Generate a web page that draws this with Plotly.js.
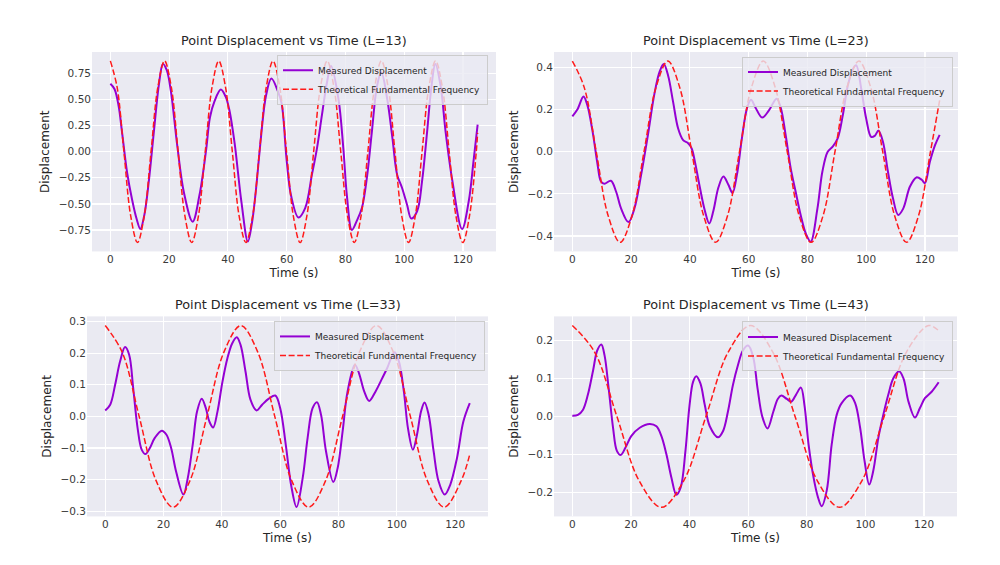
<!DOCTYPE html>
<html>
<head>
<meta charset="utf-8">
<script src="https://cdn.plot.ly/plotly-3.0.1.min.js"></script>
<style>
  html, body { margin: 0; padding: 0; background: #ffffff; }
  #chart { width: 1000px; height: 565px; }
</style>
</head>
<body>
<div id="chart"></div>
<script>
// Tick labels
const timeTicks = [0, 20, 40, 60, 80, 100, 120];
const ticks13 = [-0.75, -0.5, -0.25, 0, 0.25, 0.5, 0.75];
const ticks23 = [-0.4, -0.2, 0, 0.2, 0.4];
const ticks33 = [-0.3, -0.2, -0.1, 0, 0.1, 0.2, 0.3];
const ticks43 = [-0.2, -0.1, 0, 0.1, 0.2];

// L=13, measured displacement
const measured13T = [0, 1.4, 2.8, 4.0, 5.7, 7.4, 8.9, 10.2, 11.6, 13.1, 14.8, 16.6, 17.9, 19.2, 20.6, 22.8, 25.1, 28.0, 30.3, 32.6,
    33.9, 35.4, 37.6, 39.2, 40.5, 42.3, 44.6, 46.8, 48.2, 49.6, 51.3, 53.0, 54.8, 57.0, 58.3, 60.0, 61.5, 64.0, 66.3, 68.6,
    70.3, 72.0, 73.7, 75.1, 77.6, 79.3, 80.5, 82.2, 83.9, 85.6, 87.3, 89.0, 90.7, 92.2, 94.2, 96.0, 97.6, 99.2, 101.0, 102.4,
    104.4, 106.1, 107.8, 109.3, 110.6, 112.4, 114.1, 116.4, 119.7, 122.0, 123.6, 125];
const measured13Y = [0.65, 0.60, 0.44, 0.18, -0.20, -0.46, -0.64, -0.74, -0.60, -0.28, 0.19, 0.66, 0.84, 0.78, 0.58, 0.05, -0.40, -0.67, -0.42, 0.02,
    0.33, 0.48, 0.595, 0.53, 0.40, 0.08, -0.48, -0.86, -0.68, -0.35, 0.15, 0.54, 0.70, 0.58, 0.46, -0.08, -0.42, -0.63, -0.54, -0.22,
    0.03, 0.35, 0.66, 0.82, 0.51, 0.03, -0.42, -0.75, -0.66, -0.54, -0.25, 0.19, 0.62, 0.76, 0.51, 0.13, -0.22, -0.34, -0.51, -0.64,
    -0.57, -0.28, 0.19, 0.63, 0.84, 0.63, 0.19, -0.28, -0.74, -0.47, -0.09, 0.26];

// L=13, theoretical fundamental frequency
const theory13T = [0, 2.31, 4.61, 6.92, 9.23, 11.53, 13.84, 16.14, 18.45, 20.76, 23.06, 25.37, 27.68, 29.98, 32.29, 34.59,
    36.9, 39.21, 41.51, 43.82, 46.13, 48.43, 50.74, 53.04, 55.35, 57.66, 59.96, 62.27, 64.58, 66.88, 69.19, 71.49,
    73.8, 76.11, 78.41, 80.72, 83.03, 85.33, 87.64, 89.94, 92.25, 94.56, 96.86, 99.17, 101.48, 103.78, 106.09, 108.39,
    110.7, 113.01, 115.31, 117.62, 119.93, 122.23, 124.54, 125];
const theory13Y = [0.87, 0.615, 0, -0.615, -0.87, -0.615, 0, 0.615, 0.87, 0.615, 0, -0.615, -0.87, -0.615, 0, 0.615,
    0.87, 0.615, 0, -0.615, -0.87, -0.615, 0, 0.615, 0.87, 0.615, 0, -0.615, -0.87, -0.615, 0, 0.615,
    0.87, 0.615, 0, -0.615, -0.87, -0.615, 0, 0.615, 0.87, 0.615, 0, -0.615, -0.87, -0.615, 0, 0.615,
    0.87, 0.615, 0, -0.615, -0.87, -0.615, 0, 0.18];

// L=23
const measured23T = [0, 1.7, 3.8, 5.1, 6.9, 8.6, 9.7, 10.9, 13.1, 14.9, 16.6, 19.1, 21.1, 23.4, 25.7, 28.0, 29.7, 31.1, 32.6, 34.3,
    36.0, 37.7, 39.4, 40.6, 41.7, 43.4, 45.1, 46.6, 48.0, 49.7, 51.4, 53.1, 54.5, 56.0, 57.7, 59.4, 60.8, 62.3, 64.6, 66.9,
    69.5, 70.9, 72.6, 74.3, 76.0, 77.7, 79.5, 81.1, 83.4, 85.1, 86.9, 88.6, 90.3, 92.0, 93.7, 95.4, 96.6, 98.3, 100.0, 101.7,
    102.9, 104.2, 105.7, 107.4, 109.1, 110.9, 112.6, 114.9, 117.1, 118.9, 120.0, 121.7, 123.4, 125];
const measured23Y = [0.168, 0.20, 0.262, 0.22, 0.094, -0.063, -0.14, -0.152, -0.138, -0.19, -0.27, -0.334, -0.27, -0.11, 0.078, 0.28, 0.38, 0.416, 0.36, 0.235,
    0.11, 0.055, 0.04, 0.016, -0.047, -0.17, -0.28, -0.34, -0.28, -0.17, -0.118, -0.157, -0.196, -0.11, 0.063, 0.204, 0.246, 0.21, 0.162, 0.196,
    0.251, 0.21, 0.078, -0.078, -0.19, -0.30, -0.39, -0.427, -0.27, -0.094, 0.0, 0.024, 0.063, 0.17, 0.31, 0.39, 0.41, 0.30, 0.157, 0.07,
    0.075, 0.10, 0.047, -0.094, -0.22, -0.30, -0.27, -0.165, -0.122, -0.133, -0.149, -0.047, 0.03, 0.08];
const theory23T = [0, 4.06, 8.13, 12.19, 16.25, 20.31, 24.38, 28.44, 32.5, 36.56, 40.63, 44.69, 48.75, 52.81, 56.88, 60.94,
    65, 69.06, 73.13, 77.19, 81.25, 85.31, 89.38, 93.44, 97.5, 101.56, 105.63, 109.69, 113.75, 117.81, 121.88, 125];
const theory23Y = [0.43, 0.304, 0, -0.304, -0.43, -0.304, 0, 0.304, 0.43, 0.304, 0, -0.304, -0.43, -0.304, 0, 0.304,
    0.43, 0.304, 0, -0.304, -0.43, -0.304, 0, 0.304, 0.43, 0.304, 0, -0.304, -0.43, -0.304, 0, 0.244];

// L=33
const measured33T = [0, 1.7, 3.4, 5.1, 6.8, 8.2, 9.6, 11.1, 12.5, 13.8, 15.3, 17.0, 19.4, 21.0, 22.6, 24.3, 26.8, 28.3, 30.0, 31.5,
    33.1, 34.5, 35.7, 37.0, 38.5, 40.2, 41.9, 43.6, 45.1, 46.4, 48.1, 49.8, 51.9, 53.8, 56.1, 58.3, 60.0, 61.9, 63.8, 65.6,
    67.7, 69.4, 71.1, 72.6, 74.0, 75.7, 78.2, 79.7, 81.4, 83.1, 85.6, 87.0, 88.8, 90.5, 92.7, 95.0, 96.7, 99.2, 100.7, 102.4,
    103.8, 105.5, 106.9, 108.3, 109.5, 110.9, 112.6, 114.3, 116.4, 118.3, 120.6, 122.8, 125];
const measured33Y = [0.019, 0.037, 0.10, 0.174, 0.219, 0.195, 0.089, -0.037, -0.105, -0.119, -0.10, -0.068, -0.045, -0.058, -0.10, -0.174, -0.247, -0.195, -0.089, 0.016,
    0.056, 0.026, -0.016, -0.035, 0.016, 0.11, 0.184, 0.232, 0.25, 0.226, 0.142, 0.053, 0.019, 0.037, 0.056, 0.066, 0.026, -0.089, -0.22, -0.286,
    -0.195, -0.068, 0.026, 0.045, 0.005, -0.11, -0.207, -0.163, -0.047, 0.079, 0.163, 0.137, 0.079, 0.049, 0.079, 0.121, 0.153, 0.203, 0.174, 0.079,
    -0.037, -0.105, -0.058, 0.016, 0.044, 0.005, -0.11, -0.205, -0.247, -0.216, -0.132, -0.016, 0.042];
const theory33T = [0, 5.81, 11.63, 17.44, 23.25, 29.06, 34.88, 40.69, 46.5, 52.31, 58.13, 63.94, 69.75, 75.56, 81.38, 87.19,
    93, 98.81, 104.63, 110.44, 116.25, 122.06, 125];
const theory33Y = [0.287, 0.203, 0, -0.203, -0.287, -0.203, 0, 0.203, 0.287, 0.203, 0, -0.203, -0.287, -0.203, 0, 0.203,
    0.287, 0.203, 0, -0.203, -0.287, -0.203, -0.12];

// L=43
const measured43T = [0, 1.9, 3.6, 5.3, 7.1, 8.5, 9.9, 11.0, 12.4, 13.9, 15.2, 16.5, 18.1, 20.1, 23.0, 26.4, 28.7, 30.4, 32.1, 33.8,
    35.5, 37.0, 38.6, 40.0, 41.2, 42.3, 43.7, 45.2, 46.9, 49.7, 51.4, 53.1, 54.8, 56.5, 58.2, 60.0, 61.7, 63.2, 64.8, 66.6,
    68.6, 70.1, 71.3, 73.2, 74.7, 76.3, 78.0, 79.2, 80.6, 82.3, 83.8, 85.1, 86.8, 88.5, 90.2, 91.9, 94.8, 96.5, 98.2, 99.7,
    101.3, 102.7, 104.4, 106.1, 107.8, 109.5, 111.5, 113.0, 114.7, 116.9, 118.6, 120.3, 122.6, 125];
const measured43Y = [0.002, 0.004, 0.017, 0.057, 0.122, 0.174, 0.19, 0.161, 0.074, -0.03, -0.091, -0.102, -0.083, -0.052, -0.03, -0.02, -0.026, -0.052, -0.10, -0.161,
    -0.207, -0.187, -0.091, 0.03, 0.091, 0.106, 0.087, 0.03, -0.026, -0.055, -0.039, 0.013, 0.083, 0.135, 0.174, 0.187, 0.157, 0.074, 0.0, -0.032,
    0.013, 0.046, 0.055, 0.046, 0.039, 0.057, 0.076, 0.03, -0.074, -0.161, -0.213, -0.237, -0.196, -0.074, 0.004, 0.035, 0.055, 0.035, -0.03, -0.117,
    -0.18, -0.143, -0.057, 0.004, 0.057, 0.10, 0.119, 0.10, 0.039, -0.003, 0.022, 0.048, 0.065, 0.09];
const theory43T = [0, 7.6, 15.2, 22.8, 30.4, 38.0, 45.6, 53.2, 60.8, 68.4, 76.0, 83.6, 91.2, 98.8, 106.4, 114.0, 121.6, 125];
const theory43Y = [0.24, 0.17, 0, -0.17, -0.24, -0.17, 0, 0.17, 0.24, 0.17, 0, -0.17, -0.24, -0.17, 0, 0.17, 0.24, 0.226];

// Styling (seaborn darkgrid look)
const TEXT = '#262626';
const FONT = 'DejaVu Sans, sans-serif';
const PURPLE = '#9400d3';
const RED = '#ff1a1a';

// One panel per length: domains in paper fractions
const panels = [
    { name: 'L=13', mT: measured13T, mY: measured13Y, tT: theory13T, tY: theory13Y, ticks: ticks13, fmt: '.2f',
      range: [-0.955, 0.955], xd: [0.092, 0.496], yd: [0.555, 0.908], legX: 0.488, legY: 0.903 },
    { name: 'L=23', mT: measured23T, mY: measured23Y, tT: theory23T, tY: theory23Y, ticks: ticks23, fmt: '.1f',
      range: [-0.473, 0.473], xd: [0.554, 0.958], yd: [0.555, 0.908], legX: 0.953, legY: 0.900 },
    { name: 'L=33', mT: measured33T, mY: measured33Y, tT: theory33T, tY: theory33Y, ticks: ticks33, fmt: '.1f',
      range: [-0.316, 0.316], xd: [0.087, 0.488], yd: [0.086, 0.440], legX: 0.485, legY: 0.432 },
    { name: 'L=43', mT: measured43T, mY: measured43Y, tT: theory43T, tY: theory43Y, ticks: ticks43, fmt: '.1f',
      range: [-0.264, 0.264], xd: [0.554, 0.957], yd: [0.086, 0.440], legX: 0.953, legY: 0.431 }
];

const traces = [];
const layout = {
    width: 1000,
    height: 565,
    margin: { l: 0, r: 0, t: 0, b: 0 },
    paper_bgcolor: '#ffffff',
    plot_bgcolor: '#eaeaf2',
    font: { family: FONT, color: TEXT, size: 10.5 },
    showlegend: true,
    annotations: []
};

panels.forEach((p, i) => {
    const n = i + 1;
    const suffix = n === 1 ? '' : String(n);
    const legendId = 'legend' + suffix;

    traces.push({
        x: p.mT, y: p.mY,
        xaxis: 'x' + suffix, yaxis: 'y' + suffix,
        type: 'scatter', mode: 'lines',
        name: 'Measured Displacement',
        legend: legendId,
        line: { color: PURPLE, width: 2, shape: 'spline', smoothing: 1 },
        hoverinfo: 'skip'
    });
    traces.push({
        x: p.tT, y: p.tY,
        xaxis: 'x' + suffix, yaxis: 'y' + suffix,
        type: 'scatter', mode: 'lines',
        name: 'Theoretical Fundamental Frequency',
        legend: legendId,
        line: { color: RED, width: 1.5, dash: '6px,2.6px', shape: 'spline', smoothing: 1 },
        hoverinfo: 'skip'
    });

    layout['xaxis' + suffix] = {
        domain: p.xd,
        anchor: 'y' + suffix,
        range: [-6.25, 131.25],
        tickvals: timeTicks,
        ticks: '',
        showgrid: true, gridcolor: '#ffffff', gridwidth: 1.2,
        zeroline: false, showline: false,
        tickfont: { size: 10.5, color: '#3a3a3a' },
        title: { text: 'Time (s)', font: { size: 12, color: TEXT }, standoff: 4 },
        automargin: false
    };
    layout['yaxis' + suffix] = {
        domain: p.yd,
        anchor: 'x' + suffix,
        range: p.range,
        tickvals: p.ticks,
        tickformat: p.fmt,
        ticks: '',
        showgrid: true, gridcolor: '#ffffff', gridwidth: 1.2,
        zeroline: false, showline: false,
        tickfont: { size: 10.5, color: '#3a3a3a' },
        title: { text: 'Displacement', font: { size: 12, color: TEXT }, standoff: 6 },
        automargin: false
    };
    layout[legendId] = {
        x: p.legX, y: p.legY,
        xanchor: 'right', yanchor: 'top',
        xref: 'paper', yref: 'paper',
        bgcolor: 'rgba(234,234,242,0.8)',
        bordercolor: '#cccccc', borderwidth: 1,
        font: { size: 9, color: TEXT },
        itemwidth: 30,
        tracegroupgap: 0
    };
    layout.annotations.push({
        text: 'Point Displacement vs Time (' + p.name + ')',
        xref: 'paper', yref: 'paper',
        x: (p.xd[0] + p.xd[1]) / 2,
        y: p.yd[1] + 0.004,
        xanchor: 'center', yanchor: 'bottom',
        showarrow: false,
        font: { size: 12.8, color: TEXT }
    });
});

Plotly.newPlot('chart', traces, layout, { displayModeBar: false, responsive: false, staticPlot: true });
</script>
</body>
</html>
